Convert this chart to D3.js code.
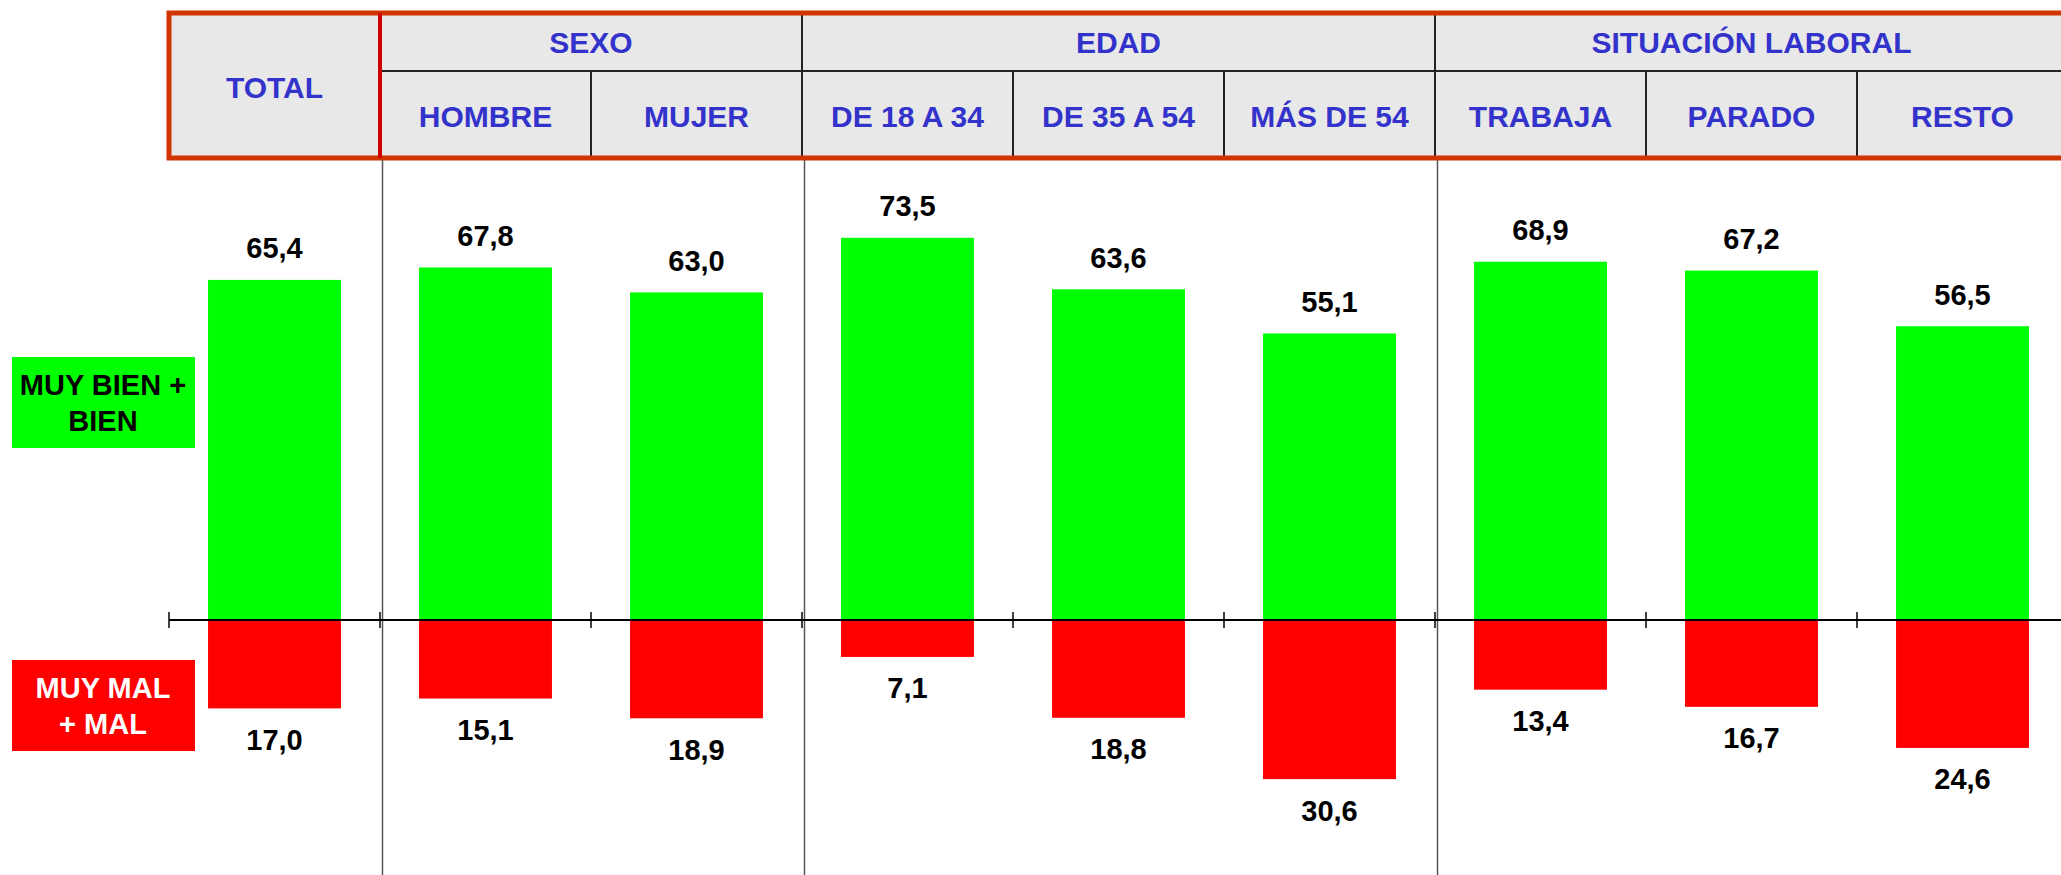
<!DOCTYPE html>
<html>
<head>
<meta charset="utf-8">
<script src="https://cdn.jsdelivr.net/npm/d3@7"></script>
<style>
  body { margin: 0; background: #fff; }
  text { font-family: "Liberation Sans", Arial, sans-serif; font-weight: bold; }
</style>
</head>
<body>
<div id="container"></div>
<script>
var width = 2061,
    height = 875;

var categories = ["TOTAL", "HOMBRE", "MUJER", "DE 18 A 34", "DE 35 A 54", "MÁS DE 54", "TRABAJA", "PARADO", "RESTO"];
var groupOf = ["", "SEXO", "SEXO", "EDAD", "EDAD", "EDAD", "SITUACIÓN LABORAL", "SITUACIÓN LABORAL", "SITUACIÓN LABORAL"];
var groups = ["SEXO", "EDAD", "SITUACIÓN LABORAL"];
var good = [65.4, 67.8, 63.0, 73.5, 63.6, 55.1, 68.9, 67.2, 56.5];
var bad = [17.0, 15.1, 18.9, 7.1, 18.8, 30.6, 13.4, 16.7, 24.6];

var svg = d3.select('#container').append('svg')
    .attr("width", width)
    .attr("height", height);

var left = 169, step = 211;
var x = d3.scaleBand()
    .domain(categories)
    .range([left, left + step * categories.length])
    .paddingInner(0.37)
    .paddingOuter(0.185);

var zeroY = 620, unit = 5.2;
var y = d3.scaleLinear()
    .domain([-40, 80])
    .range([zeroY + 40 * unit, zeroY - 80 * unit]);

var fmt = function(v) { return d3.format(".1f")(v).replace(".", ","); };
function bound(i) { return x.range()[0] + i * x.step(); }

// header
var hTop = 13, hMid = 71, hBot = 158;
var head = svg.append("g");
head.append("rect")
    .attr("x", left).attr("y", hTop)
    .attr("width", width - left + 20).attr("height", hBot - hTop)
    .style("fill", "#e8e8e8");

// inner grid lines
head.append("line")
    .attr("x1", bound(1)).attr("x2", width)
    .attr("y1", hMid).attr("y2", hMid)
    .style("stroke", "#222").style("stroke-width", 2);
categories.forEach(function(c, i) {
  if (i < 2) return;
  var top = groupOf[i] !== groupOf[i - 1] ? hTop : hMid;
  head.append("line")
      .attr("x1", bound(i)).attr("x2", bound(i))
      .attr("y1", top).attr("y2", hBot)
      .style("stroke", "#222").style("stroke-width", 2);
});

// outer border
head.append("path")
    .attr("d", "M" + (width + 10) + "," + hTop + "H" + left + "V" + hBot + "H" + (width + 10))
    .style("fill", "none")
    .style("stroke", "#d03500")
    .style("stroke-width", 5);
head.append("line")
    .attr("x1", bound(1)).attr("x2", bound(1))
    .attr("y1", hTop).attr("y2", hBot)
    .style("stroke", "#cc0000").style("stroke-width", 4);

// group titles
groups.forEach(function(g) {
  var idx = groupOf.map(function(d, i) { return d === g ? i : -1; }).filter(function(i) { return i >= 0; });
  var cx = (bound(idx[0]) + bound(idx[idx.length - 1] + 1)) / 2;
  head.append("text")
      .attr("x", cx).attr("y", (hTop + hMid) / 2)
      .attr("text-anchor", "middle").attr("dy", "0.37em")
      .style("font-size", "30px").style("fill", "#3333cc")
      .text(g);
});

head.selectAll(".cat")
    .data(categories)
    .enter().append("text")
    .attr("class", "cat")
    .attr("x", function(d) { return x(d) + x.bandwidth() / 2; })
    .attr("y", function(d, i) { return i === 0 ? (hTop + hBot) / 2 : (hMid + hBot) / 2; })
    .attr("text-anchor", "middle").attr("dy", "0.4em")
    .style("font-size", "30px").style("fill", "#3333cc")
    .text(function(d) { return d; });

// group separators below header
categories.forEach(function(c, i) {
  if (i === 0 || groupOf[i] === groupOf[i - 1]) return;
  svg.append("line")
      .attr("x1", bound(i) + 2.5).attr("x2", bound(i) + 2.5)
      .attr("y1", hBot + 2).attr("y2", height)
      .style("stroke", "#555").style("stroke-width", 1.5);
});

// bars
svg.selectAll(".good")
    .data(good)
    .enter().append("rect")
    .attr("class", "good")
    .attr("x", function(d, i) { return x(categories[i]); })
    .attr("width", x.bandwidth())
    .attr("y", function(d) { return y(d); })
    .attr("height", function(d) { return y(0) - y(d); })
    .style("fill", "#00ff00");

svg.selectAll(".bad")
    .data(bad)
    .enter().append("rect")
    .attr("class", "bad")
    .attr("x", function(d, i) { return x(categories[i]); })
    .attr("width", x.bandwidth())
    .attr("y", y(0))
    .attr("height", function(d) { return y(-d) - y(0); })
    .style("fill", "#ff0000");

// axis
svg.append("line")
    .attr("x1", left).attr("x2", width)
    .attr("y1", y(0)).attr("y2", y(0))
    .style("stroke", "#000").style("stroke-width", 2);
d3.range(categories.length + 1).forEach(function(i) {
  svg.append("line")
      .attr("x1", bound(i)).attr("x2", bound(i))
      .attr("y1", y(0) - 8).attr("y2", y(0) + 8)
      .style("stroke", "#000").style("stroke-width", 1.5);
});

// value labels
svg.selectAll(".goodLabel")
    .data(good)
    .enter().append("text")
    .attr("x", function(d, i) { return x(categories[i]) + x.bandwidth() / 2; })
    .attr("y", function(d) { return y(d) - 32; })
    .attr("text-anchor", "middle").attr("dy", "0.36em")
    .style("font-size", "29px").style("fill", "#000")
    .text(fmt);

svg.selectAll(".badLabel")
    .data(bad)
    .enter().append("text")
    .attr("x", function(d, i) { return x(categories[i]) + x.bandwidth() / 2; })
    .attr("y", function(d) { return y(-d) + 31; })
    .attr("text-anchor", "middle").attr("dy", "0.36em")
    .style("font-size", "29px").style("fill", "#000")
    .text(fmt);

// legend boxes
var legend = [
  {lines: ["MUY BIEN +", "BIEN"], fill: "#00ff00", color: "#000", y0: 357, y1: 448},
  {lines: ["MUY MAL", "+ MAL"], fill: "#ff0000", color: "#fff", y0: 660, y1: 751}
];
legend.forEach(function(l) {
  svg.append("rect")
      .attr("x", 12).attr("y", l.y0)
      .attr("width", 183).attr("height", l.y1 - l.y0)
      .style("fill", l.fill);
  l.lines.forEach(function(t, k) {
    svg.append("text")
        .attr("x", 103).attr("y", (l.y0 + l.y1) / 2 + (k - 0.5) * 36)
        .attr("text-anchor", "middle").attr("dy", "0.36em")
        .style("font-size", "29px").style("fill", l.color)
        .text(t);
  });
});
</script>
</body>
</html>
